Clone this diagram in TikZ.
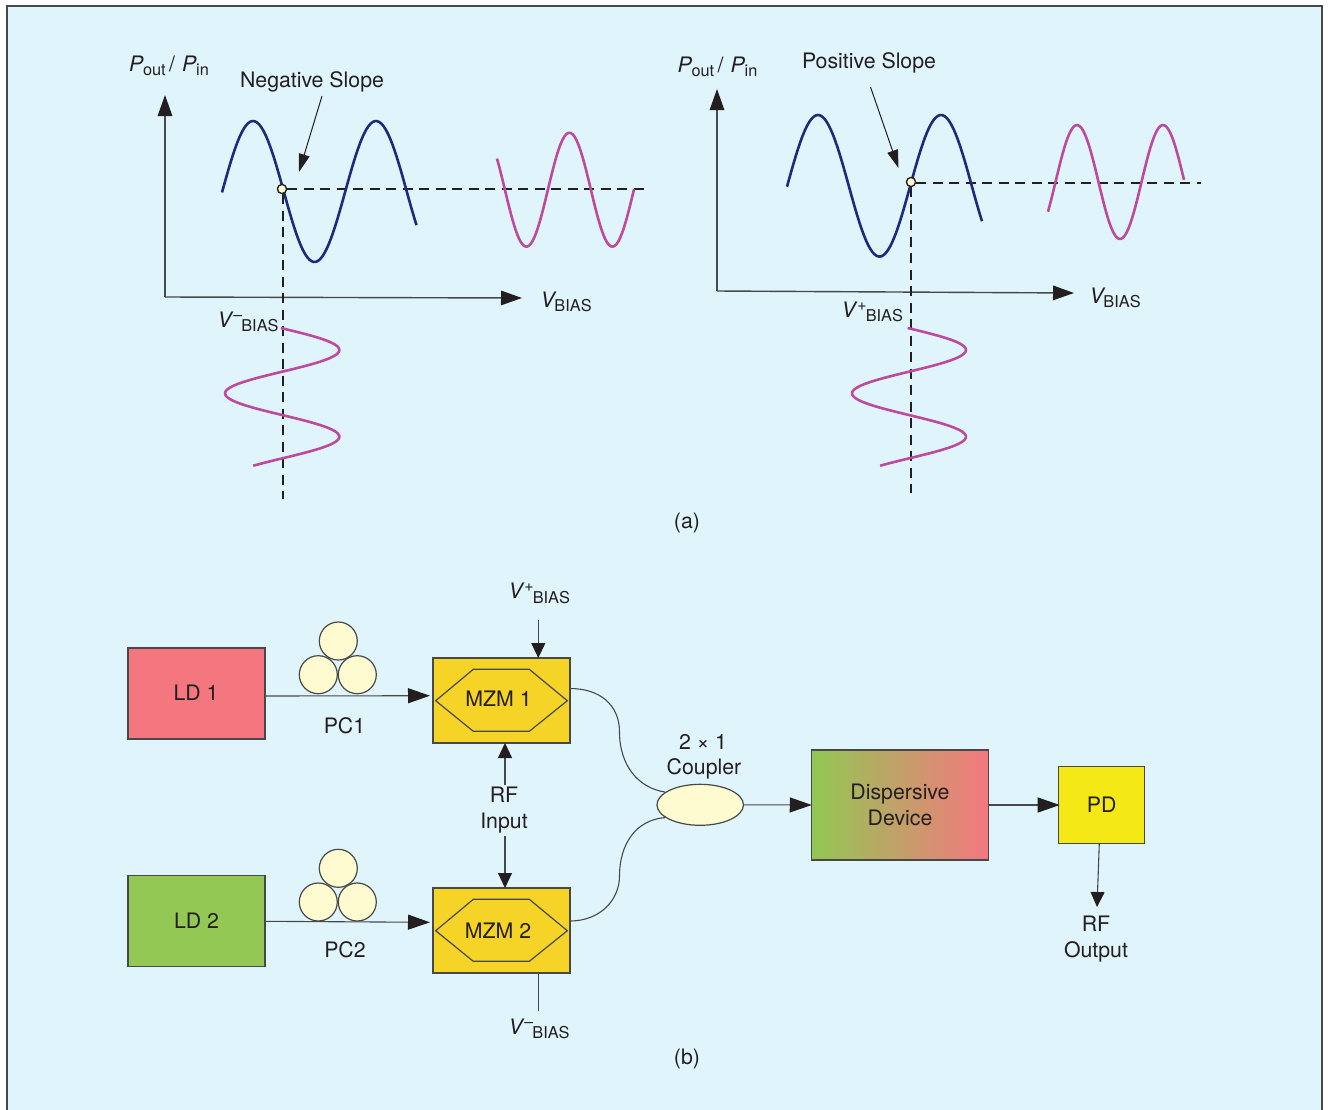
\documentclass[tikz,border=0pt]{standalone}
\usepackage{fontspec}
\setmainfont{TeX Gyre Heros}
\usetikzlibrary{arrows.meta,shapes.geometric}
\definecolor{bgblue}{HTML}{E0F4FC}
\definecolor{ink}{HTML}{231F20}
\definecolor{edge}{HTML}{47484A}
\definecolor{ldred}{HTML}{F4777F}
\definecolor{ldgreen}{HTML}{92C853}
\definecolor{mzgold}{HTML}{F5D327}
\definecolor{pdyellow}{HTML}{F4E816}
\definecolor{cream}{HTML}{FFFBD0}
\definecolor{wavblue}{HTML}{1F2A7C}
\definecolor{wavmag}{HTML}{BE4A9E}
\newcommand{\subt}[1]{\raisebox{-4.5pt}{\fontsize{16.3}{17}\selectfont #1}}
\newcommand{\vbias}[1]{\textit{V}\raisebox{7pt}{\fontsize{16}{17}\selectfont #1}\kern-1pt\subt{BIAS}}
\newcommand{\vplain}{\textit{V}\kern-2pt\subt{BIAS}}
\newcommand{\ratio}{\textit{P}\kern-0.5pt\subt{out}\kern3.5pt/\kern7pt\textit{P}\kern-0.5pt\subt{in}}
\tikzset{
  x=1pt,y=-1pt,
  lab/.style={font=\fontsize{21.3}{26}\selectfont,text=ink,inner sep=0pt,outer sep=0pt,align=center},
  box/.style={draw=edge,line width=1.3pt,inner sep=0pt,outer sep=0pt,lab},
  conn/.style={draw=edge,line width=1.1pt},
  bigtip/.style={conn,-{Triangle[length=22pt,width=15pt,color=ink]}},
  axtip/.style={draw=edge,line width=1.4pt,-{Triangle[length=21pt,width=14.5pt,color=ink]}},
  smalltip/.style={conn,-{Triangle[length=15pt,width=14pt,color=ink]}},
  sloptip/.style={draw=ink,line width=1pt,-{Triangle[length=18pt,width=11pt]}},
  dash line/.style={draw=ink,line width=1.2pt,dash pattern=on 10pt off 6.5pt},
  bluewave/.style={draw=wavblue,line width=2.6pt,line join=round},
  magwave/.style={draw=wavmag,line width=2.6pt,line join=round},
  pcring/.style={circle,draw=edge,line width=1.2pt,fill=cream,minimum size=38pt,inner sep=0pt},
  bias dot/.style={circle,draw=ink,line width=1.2pt,fill=cream,minimum size=9pt,inner sep=0pt},
}
\begin{document}
\begin{tikzpicture}
\useasboundingbox (0,0) rectangle (1330,1109);
\clip (0,0) rectangle (1330,1109);
\draw[draw=edge,line width=2pt,fill=bgblue] (7,6) rectangle (1322,1125);

% ---- (a) left
\coordinate (lo) at (165,297);
\coordinate (ly) at (165,95);
\coordinate (lx) at (522,298);
\draw[axtip] (lo) -- (ly);
\draw[axtip] (lo) -- (lx);
\node[bias dot] (ldot) at (282,189) {};
\coordinate (ldashr) at (650,189);
\coordinate (ldashb) at (283,499);
\draw[dash line] (ldot.east) -- (ldashr);
\draw[dash line] (ldashb |- ldot.south) -- (ldashb);
\draw[bluewave] plot[domain=222:416.5,samples=90] (\x,{191.5-70.5*cos((\x-253)/123*360)});
\draw[magwave] plot[domain=497:634,samples=70] (\x,{189.7-57*cos((\x-569.4)/86*360)});
\draw[magwave] plot[variable=\t,domain=328:465.7,samples=70] ({282.2+57.2*cos((\t-350)/86.7*360)},\t);
\node[bias dot] at (ldot) {};
\node[lab,anchor=base west] (lry) at (129,71) {\ratio};
\node[lab,anchor=base] (lslope) at (312,87) {Negative Slope};
\coordinate (lslopetip) at (299,172);
\draw[sloptip] (322,96) -- (lslopetip);
\node[lab,anchor=base west] (lvx) at (540.5,307) {\vplain};
\node[lab,anchor=base west] (lvb) at (217.5,327) {\vbias{–}};

% ---- (a) right
\coordinate (ro) at (717,291);
\coordinate (ry) at (717,89);
\coordinate (rx) at (1074,293);
\draw[axtip] (ro) -- (ry);
\draw[axtip] (ro) -- (rx);
\node[bias dot] (rdot) at (911,182) {};
\coordinate (rdashr) at (1201,183);
\coordinate (rdashb) at (911,493);
\draw[dash line] (rdot.east |- rdashr) -- (rdashr);
\draw[dash line] (rdashb |- rdot.south) -- (rdashb);
\draw[bluewave] plot[domain=787:982,samples=90] (\x,{185.8-70.8*cos((\x-818)/123*360)});
\draw[magwave] plot[domain=1048:1184,samples=70] (\x,{182-57*cos((\x-1077)/86*360)});
\draw[magwave] plot[variable=\t,domain=328:465.7,samples=70] ({909+57*cos((\t-350)/86.7*360)},\t);
\node[bias dot] at (rdot) {};
\node[lab,anchor=base west] (rry) at (677.5,72) {\ratio};
\node[lab,anchor=base] (rslope) at (869,68) {Positive Slope};
\coordinate (rslopetip) at (898.5,168);
\draw[sloptip] (870.5,87) -- (rslopetip);
\node[lab,anchor=base west] (rvx) at (1089.5,303) {\vplain};
\node[lab,anchor=base west] (rvb) at (841.5,317) {\vbias{+}};

\node[lab,anchor=base] (capa) at (687,528) {(a)};

% ---- (b) blocks
\node[box,fill=ldred,minimum width=137pt,minimum height=91pt] (ld1) at (196.5,693.5) {};
\node[lab] (ld1t) at (196,692.5) {LD 1};
\node[box,fill=ldgreen,minimum width=137pt,minimum height=91pt] (ld2) at (196.5,921.3) {};
\node[lab] (ld2t) at (196.5,920.5) {LD 2};
\node[box,fill=mzgold,minimum width=137pt,minimum height=85pt] (mz1) at (501.5,700.5) {};
\node[box,fill=mzgold,minimum width=137pt,minimum height=85pt] (mz2) at (501.5,930.5) {};
\draw[draw=edge,line width=1.2pt,line join=miter] (435.7,700.7) -- (473.3,669.3) -- (529.3,669.3) -- (567.3,700.7) -- (529.3,731.3) -- (473.3,731.3) -- cycle;
\draw[draw=edge,line width=1.2pt,line join=miter] (435.7,930.7) -- (473.3,899.3) -- (529.3,899.3) -- (567.3,930.7) -- (529.3,961.3) -- (473.3,961.3) -- cycle;
\node[lab] (mz1t) at (498.5,699) {MZM 1};
\node[lab] (mz2t) at (498,931) {MZM 2};

\foreach \n/\yy in {a/641,b/868.3}{
  \node[pcring] (pc\n t) at (338.3,\yy) {};
  \node[pcring] (pc\n l) at (318.3,\yy+33.7) {};
  \node[pcring] (pc\n r) at (357.3,\yy+33.7) {};
}
\node[lab] (pc1) at (344.5,725.5) {PC1};
\node[lab] (pc2) at (345,949.5) {PC2};

\draw[bigtip] ([yshift=-2.5pt]ld1.east) -- ([xshift=-3pt,yshift=4.8pt]mz1.west);
\draw[bigtip] (ld2.east) -- ([xshift=-3pt,yshift=8.2pt]mz2.west);

\node[lab,anchor=base west] (vp) at (508.5,598.5) {\vbias{+}};
\coordinate (vpend) at (538.3,620);
\draw[smalltip] (vpend) -- (mz1.north -| vpend);
\node[lab,anchor=base west] (vm) at (508.5,1034) {\vbias{–}};
\coordinate (vmend) at (538.3,1011);
\draw[conn] (mz2.south -| vmend) -- (vmend);

\node[lab] (rfin) at (504,810.5) {RF\\Input};
\draw[smalltip] ([yshift=2pt]rfin.north -| 505,0) -- (mz1.south -| 505,0);
\draw[smalltip] ([yshift=-2pt]rfin.south -| 505,0) -- (mz2.north -| 505,0);

\node[ellipse,draw=edge,line width=1.2pt,fill=cream,minimum width=86.5pt,minimum height=41pt,inner sep=0pt] (coup) at (700.2,804.8) {};
\node[lab,anchor=base] (c2x1) at (703,749) {2 × 1};
\node[lab,anchor=base] (ccoup) at (704,774) {Coupler};
\draw[conn] (mz1.east |- 0,688.5) .. controls (600,688.5) and (619.5,705) .. (619.5,732) .. controls (619.5,765) and (638,788) .. (coup.160);
\draw[conn] (mz2.east |- 0,921) .. controls (600,921) and (619.5,900) .. (619.5,876) .. controls (619.5,845) and (635,820) .. (coup.200);

\node[box,left color=ldgreen,right color=ldred,minimum width=176.5pt,minimum height=110pt] (disp) at (900,805) {Dispersive\\Device};
\node[box,fill=pdyellow,minimum width=86pt,minimum height=76.5pt] (pd) at (1101.7,805) {PD};
\draw[bigtip] (coup.east) -- (disp.west);
\draw[bigtip] (disp.east) -- ([xshift=1pt]pd.west);
\coordinate (rfout) at (1097,907);
\draw[smalltip] (pd.south -| 1099.3,0) -- (rfout);
\node[lab] (rfo) at (1096,939) {RF\\Output};

\node[lab,anchor=base] (capb) at (687,1064) {(b)};
\end{tikzpicture}
\end{document}
